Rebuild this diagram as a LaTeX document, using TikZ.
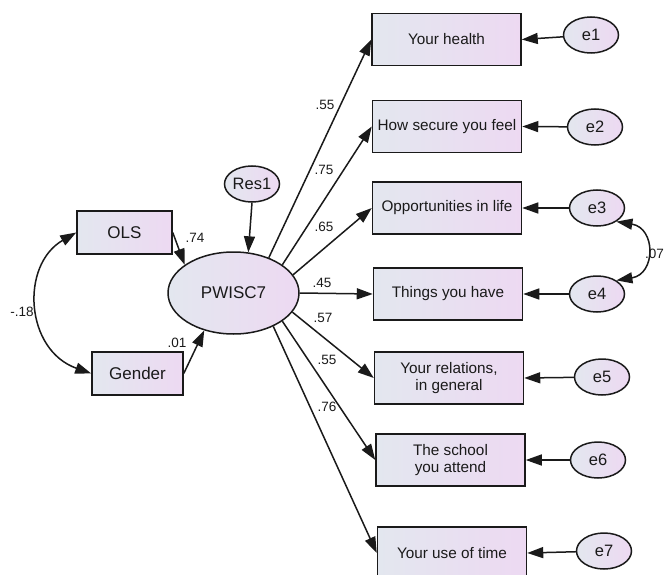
\documentclass[tikz,border=0pt]{standalone}
\usepackage{fontspec}
\setmainfont{Liberation Sans}
\usetikzlibrary{arrows.meta,shapes.geometric}
\definecolor{fl}{HTML}{E3E7EF}
\definecolor{fr}{HTML}{EDD9F2}
\definecolor{ink}{HTML}{1A1A1A}
\begin{document}
\begin{tikzpicture}[x=1pt,y=-1pt,
  box/.style={draw=ink, line width=1.5pt, left color=fl, right color=fr,
    minimum width=149pt, minimum height=52pt, inner sep=0pt, align=center,
    font=\fontsize{15.3}{17.5}\selectfont, text=ink},
  lbox/.style={box, minimum height=43pt, font=\fontsize{17}{19}\selectfont},
  err/.style={ellipse, draw=ink, line width=1.5pt, left color=fl, right color=fr,
    minimum width=55pt, minimum height=36pt, inner sep=0pt,
    font=\fontsize{16.5}{18}\selectfont, text=ink},
  arr/.style={-{Triangle[length=16pt,width=11pt]}, line width=1.5pt, draw=ink},
  darr/.style={{Triangle[length=16pt,width=11pt]}-{Triangle[length=16pt,width=11pt]}, line width=1.5pt, draw=ink},
  lab/.style={font=\fontsize{13.5}{15}\selectfont, inner sep=0pt, text=ink}
]
\useasboundingbox (0,0) rectangle (666,575);

% observed indicators
\node[box] (h) at (446.5,39.5) {Your health};
\node[box] (s) at (447,126.5) {How secure you feel};
\node[box] (o) at (447,208) {Opportunities in life};
\node[box] (t) at (448,294) {Things you have};
\node[box] (r) at (449,378) {Your relations,\\in general};
\node[box] (sc) at (450.5,460) {The school\\you attend};
\node[box] (u) at (452,553) {Your use of time};

% errors
\node[err] (e1) at (591,35) {e1};
\node[err] (e2) at (595,127) {e2};
\node[err] (e3) at (597,208) {e3};
\node[err] (e4) at (597,294) {e4};
\node[err] (e5) at (602,377) {e5};
\node[err] (e6) at (598,460) {e6};
\node[err] (e7) at (604,551) {e7};

% latent and predictors
\node[err, minimum width=131pt, minimum height=82pt, font=\fontsize{17}{19}\selectfont] (p) at (233.5,293) {PWISC7};
\node[err] (res) at (252,184) {Res1};
\node[lbox, minimum width=95pt] (ols) at (124.5,232.5) {OLS};
\node[lbox, minimum width=91pt] (g) at (137.5,373.5) {Gender};

% paths
\draw[arr] (p.45) -- (h.west);
\draw[arr] (p.30) -- (s.west);
\draw[arr] (p.17) -- (o.west);
\draw[arr] (p.east) -- (t.west);
\draw[arr] (p.-18) -- (r.west);
\draw[arr] (p.-30) -- (sc.west);
\draw[arr] (p.-40) -- (u.west);

\draw[arr] (e1) -- (h.east);
\draw[arr] (e2) -- (s.east);
\draw[arr] (e3) -- (o.east);
\draw[arr] (e4) -- (t.east);
\draw[arr] (e5) -- (r.east);
\draw[arr] (e6) -- (sc.east);
\draw[arr] (e7) -- (u.east);

\draw[arr] (res.south) -- (p.70);
\draw[arr] (ols.east) -- (p.150);
\draw[arr] (g.east) -- (p.232);

\draw[darr] (ols.west) .. controls (20,265) and (25,350) .. (g.west);
\draw[darr] (e3.-35) .. controls (656,228) and (656,274) .. (e4.35);

% labels
\node[lab] at (325,105) {.55};
\node[lab] at (324,170) {.75};
\node[lab] at (324,227) {.65};
\node[lab] at (322,283) {.45};
\node[lab] at (323,318) {.57};
\node[lab] at (327,360) {.55};
\node[lab] at (327,407) {.76};
\node[lab] at (195,238) {.74};
\node[lab] at (177,343) {.01};
\node[lab] at (22,312) {-.18};
\node[lab, anchor=west] at (645,254) {.07};
\end{tikzpicture}
\end{document}
